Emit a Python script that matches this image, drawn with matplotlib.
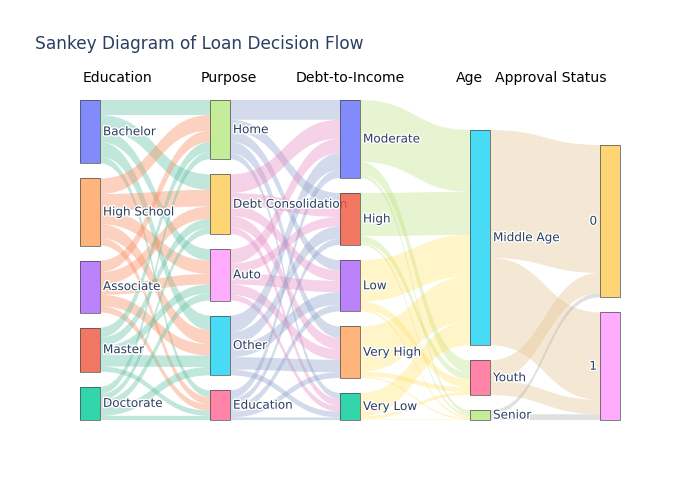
import matplotlib
matplotlib.use("Agg")
import matplotlib.pyplot as plt
from matplotlib.path import Path
from matplotlib.patches import PathPatch, Rectangle
import matplotlib.patheffects as pe

# ---------------- data ----------------
title = "Sankey Diagram of Loan Decision Flow"
column_titles = ["Education", "Purpose", "Debt-to-Income", "Age", "Approval Status"]

education = ["Bachelor", "High School", "Associate", "Master", "Doctorate"]
purpose = ["Home", "Debt Consolidation", "Auto", "Other", "Education"]
dti = ["Moderate", "High", "Low", "Very High", "Very Low"]
age = ["Middle Age", "Youth", "Senior"]
approval = ["0", "1"]

# flow counts: rows = source node, columns = target node
edu_to_purpose = [
    [29, 30, 22, 28, 13],
    [30, 32, 26, 27, 14],
    [22, 24, 20, 22, 12],
    [19, 17, 17, 22, 10],
    [14, 12, 14, 16, 8],
]
purpose_to_dti = [
    [38, 22, 20, 22, 12],
    [36, 24, 20, 22, 13],
    [28, 18, 22, 20, 11],
    [32, 24, 24, 24, 11],
    [16, 12, 13, 11, 5],
]
dti_to_age = [
    [119, 24, 7],
    [83, 13, 4],
    [80, 15, 4],
    [87, 9, 3],
    [45, 6, 1],
]
age_to_approval = [
    [246, 168],
    [39, 28],
    [8, 11],
]

# ---------------- styles ----------------
node_colors = [
    ["#636EFA", "#FFA15A", "#AB63FA", "#EF553B", "#00CC96"],
    ["#B6E880", "#FECB52", "#FF97FF", "#19D3F3", "#FF6692"],
    ["#636EFA", "#EF553B", "#AB63FA", "#FFA15A", "#00CC96"],
    ["#19D3F3", "#FF6692", "#B6E880"],
    ["#FECB52", "#FF97FF"],
]
GREEN, ORANGE, LAV, PINK = "#66c2a5", "#fc8d62", "#8da0cb", "#e78ac3"
LGREEN, YELLOW, BEIGE, GRAY = "#a6d854", "#ffd92f", "#e5c494", "#b3b3b3"
link_colors = [
    [GREEN, ORANGE, ORANGE, GREEN, GREEN],
    [LAV, PINK, PINK, LAV, LAV],
    [LGREEN, LGREEN, YELLOW, YELLOW, YELLOW],
    [BEIGE, BEIGE, GRAY],
]
link_alpha = [0.4, 0.38, 0.26, 0.4]
TEXT = "#2a3f5f"

columns = [education, purpose, dti, age, approval]
flows = [edu_to_purpose, purpose_to_dti, dti_to_age, age_to_approval]

# ---------------- layout ----------------
W, H = 700, 500
left, right, top, bottom = 80, 620, 100, 420
node_w, pad = 20, 15
ncol = len(columns)
col_x = [left + i * (right - left - node_w) / (ncol - 1) for i in range(ncol)]

# node values
values = []
for c, names in enumerate(columns):
    vals = []
    for j in range(len(names)):
        out_v = sum(flows[c][j]) if c < len(flows) else 0
        in_v = sum(row[j] for row in flows[c - 1]) if c > 0 else 0
        vals.append(max(out_v, in_v))
    values.append(vals)

ky = min((bottom - top - (len(v) - 1) * pad) / sum(v) for v in values)

node_y = []
for vals in values:
    span = sum(vals) * ky + (len(vals) - 1) * pad
    y = bottom - span  # bottom aligned (full columns fill the whole height)
    ys = []
    for v in vals:
        ys.append(y)
        y += v * ky + pad
    node_y.append(ys)

fig = plt.figure(figsize=(7, 5), dpi=100)
ax = fig.add_axes([0, 0, 1, 1])
ax.set_xlim(0, W)
ax.set_ylim(H, 0)
ax.axis("off")

# ---------------- links ----------------
for c, mat in enumerate(flows):
    x0 = col_x[c] + node_w
    x1 = col_x[c + 1]
    xm = (x0 + x1) / 2
    in_start = {}
    for t in range(len(columns[c + 1])):
        y = node_y[c + 1][t]
        for s in range(len(columns[c])):
            in_start[(s, t)] = y
            y += mat[s][t] * ky
    for s in range(len(columns[c])):
        y = node_y[c][s]
        for t in range(len(columns[c + 1])):
            w = mat[s][t] * ky
            ya = y
            yb = in_start[(s, t)]
            verts = [(x0, ya), (xm, ya), (xm, yb), (x1, yb),
                     (x1, yb + w), (xm, yb + w), (xm, ya + w), (x0, ya + w),
                     (x0, ya)]
            codes = [Path.MOVETO, Path.CURVE4, Path.CURVE4, Path.CURVE4,
                     Path.LINETO, Path.CURVE4, Path.CURVE4, Path.CURVE4,
                     Path.CLOSEPOLY]
            ax.add_patch(PathPatch(Path(verts, codes), facecolor=link_colors[c][s],
                                   alpha=link_alpha[c], edgecolor="none", zorder=1))
            y += w

# ---------------- nodes ----------------
halo = [pe.withStroke(linewidth=2, foreground="white")]
for c, names in enumerate(columns):
    for j, name in enumerate(names):
        h = values[c][j] * ky
        y = node_y[c][j]
        ax.add_patch(Rectangle((col_x[c], y), node_w, h, facecolor=node_colors[c][j],
                               alpha=0.8, edgecolor="none", zorder=3))
        ax.add_patch(Rectangle((col_x[c], y), node_w, h, facecolor="none",
                               edgecolor="#444444", lw=0.6, alpha=0.8, zorder=4))
        if c < ncol - 1:
            ax.text(col_x[c] + node_w + 3, y + h / 2, name, ha="left", va="center",
                    fontsize=8.64, color=TEXT, zorder=2, path_effects=halo)
        else:
            ax.text(col_x[c] - 3, y + h / 2, name, ha="right", va="center",
                    fontsize=8.64, color=TEXT, zorder=2, path_effects=halo)

# ---------------- titles ----------------
header_x = [117, 229, 350, 469, 551]
for hx, t in zip(header_x, column_titles):
    ax.text(hx, 78, t, ha="center", va="center", fontsize=10.08, color="black")

ax.text(35, 44, title, ha="left", va="center", fontsize=12.24, color=TEXT)

fig.savefig("out.png", dpi=100)
